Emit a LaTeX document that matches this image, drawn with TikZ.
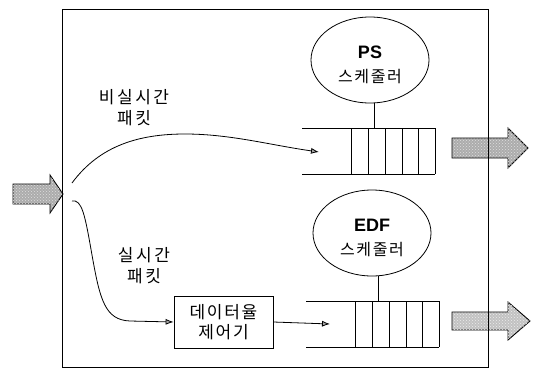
\documentclass[tikz,border=0pt]{standalone}
\usepackage{fontspec}
\setmainfont{Noto Sans CJK KR}[LetterSpace=10]
\newfontfamily\latinb{Liberation Sans}
\newfontfamily\krwide{Noto Sans CJK KR}[LetterSpace=15]
\usetikzlibrary{shapes.geometric,arrows.meta,patterns}
\tikzset{
  thinline/.style={line width=0.8pt, black},
  fatarrow/.style={draw=black, line width=0.9pt, fill=gray!65, postaction={pattern=crosshatch dots, pattern color=gray!25}},
  fatarrowlight/.style={draw=black, line width=0.9pt, fill=gray!48, postaction={pattern=crosshatch dots, pattern color=gray!15}},
  sched/.style={ellipse, draw, line width=0.8pt, minimum width=118pt, minimum height=86pt, inner sep=0pt, align=center, font=\fontsize{16}{24}\selectfont},
  ratebox/.style={rectangle, draw, line width=0.8pt, minimum width=99pt, minimum height=52pt, inner sep=0pt, align=center, font=\fontsize{17}{20}\selectfont},
  lbl/.style={align=center, inner sep=0pt, font=\krwide\fontsize{17}{21}\selectfont},
  flow/.style={thinline, -{Latex[length=8pt,width=6pt,fill=gray!70]}},
  qline/.style={line width=0.8pt}
}
\newcommand{\bigsans}[1]{{\latinb\bfseries\fontsize{18}{24}\selectfont\rule{0pt}{23pt}#1}}
\begin{document}
\begin{tikzpicture}[x=1pt,y=-1pt]
\useasboundingbox (0,0) rectangle (535,370);

% fat arrows
\draw[fatarrow] (13,184) -- (50,184) -- (50,175) -- (63,194) -- (50,213) -- (50,204) -- (13,204) -- cycle;
\draw[fatarrow] (452,138) -- (508,138) -- (508,128) -- (528,148) -- (508,168) -- (508,158) -- (452,158) -- cycle;
\draw[fatarrowlight] (452,312) -- (508,312) -- (508,302) -- (530,321) -- (508,340) -- (508,330) -- (452,330) -- cycle;

% outer box
\draw[thinline] (62,9) rectangle (488,367);

% schedulers
\node[sched] (ps) at (370,60) {\bigsans{PS}\\스케줄러};
\node[sched] (edf) at (372,233) {\bigsans{EDF}\\스케줄러};

% queue 1
\coordinate (q1in) at (319,152);
\coordinate (q1top) at (374,128);
\draw[qline] (302,128) -- (435,128) (302,174) -- (435,174);
\foreach \x in {351,368,385,402,418,435} \draw[qline] (\x,128) -- (\x,174);
\draw[thinline] (ps.south -| q1top) -- (q1top);

% queue 2
\coordinate (q2in) at (330,324);
\coordinate (q2top) at (378,301);
\draw[qline] (306,301) -- (439,301) (306,347) -- (439,347);
\foreach \x in {355,372,389,406,422,439} \draw[qline] (\x,301) -- (\x,347);
\draw[thinline] (edf.south -| q2top) -- (q2top);

% rate controller
\node[ratebox] (rc) at (223.5,322) {데이터율\\제어기};

% labels
\node[lbl] (lnrt) at (134,108) {비실시간\\패킷};
\node[lbl] (lrt) at (144,266) {실시간\\패킷};

% split point
\coordinate (s1) at (72,183);
\coordinate (s2) at (72,201);

% flows
\draw[flow] (s1) .. controls (100,145) and (140,134) .. (185,134) .. controls (230,134) and (270,145) .. (q1in);
\draw[flow] (s2) .. controls (82,199) and (85,215) .. (92,255) .. controls (100,300) and (105,320) .. (130,321) -- (rc.west);
\draw[flow] (rc.east) -- (q2in);

\end{tikzpicture}
\end{document}
